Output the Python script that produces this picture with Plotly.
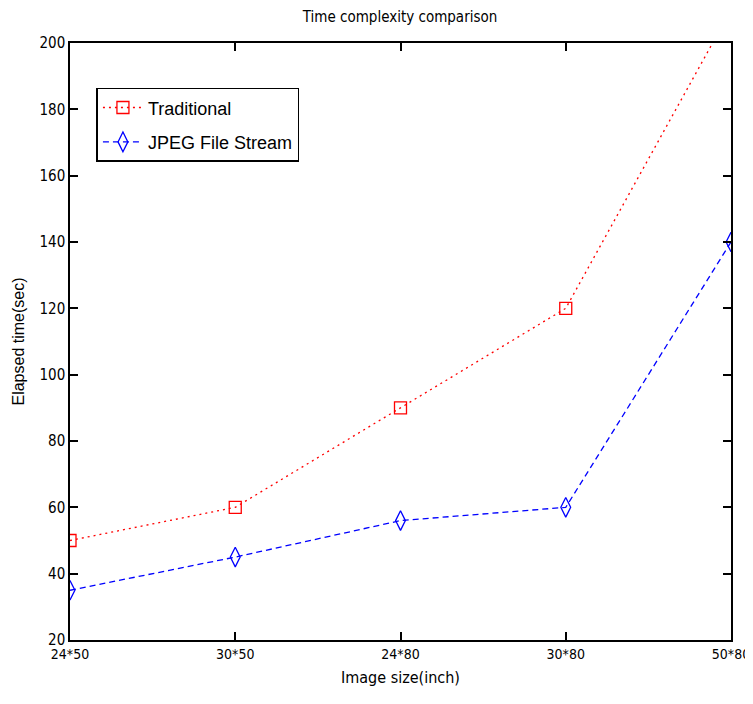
import plotly.graph_objects as go

categories = ["24*50", "30*50", "24*80", "30*80", "50*80"]
traditional = [50, 60, 90, 120, 210]
jpeg_stream = [35, 45, 56, 60, 140]
y_ticks = [20, 40, 60, 80, 100, 120, 140, 160, 180, 200]

NARROW = "DejaVu Sans Condensed, Liberation Sans Narrow, Arial Narrow, sans-serif"
REGULAR = "Liberation Sans, Arial, sans-serif"

W, H = 753, 688

fig = go.Figure()
fig.add_trace(go.Scatter(
    x=categories, y=traditional, name="Traditional", mode="lines+markers",
    legendgroup="trad",
    line=dict(color="#ff0000", width=1.3, dash="2px,4px"),
    marker=dict(symbol="square-open", size=12, color="#ff0000", line=dict(width=1.3)),
))
fig.add_trace(go.Scatter(
    x=categories, y=jpeg_stream, name="JPEG File Stream", mode="lines+markers",
    legendgroup="jpeg",
    line=dict(color="#0000ff", width=1.3, dash="6px,4px"),
    marker=dict(symbol="diamond-tall-open", size=14, color="#0000ff", line=dict(width=1.3)),
))

axis_common = dict(
    showline=True, linecolor="black", linewidth=1.5, mirror="ticks",
    ticks="inside", ticklen=8, tickcolor="black", tickwidth=1.5,
    showgrid=False, zeroline=False, automargin=False,
)

fig.update_layout(
    width=W, height=H,
    margin=dict(l=62, r=30, t=35, b=56),
    paper_bgcolor="white", plot_bgcolor="white",
    title=dict(text="Time complexity comparison", x=392 / W, xanchor="center",
               y=1 - 9 / H, yanchor="middle", yref="container",
               font=dict(family=NARROW, size=15, color="black")),
    xaxis=dict(type="category", range=[0, 4], **axis_common,
               tickfont=dict(family=NARROW, size=14, color="black"),
               title=dict(text="Image size(inch)", standoff=11,
                          font=dict(family=NARROW, size=16, color="black"))),
    yaxis=dict(range=[20, 200], tickvals=y_ticks, **axis_common,
               tickfont=dict(family=NARROW, size=15, color="black"),
               title=dict(text="Elapsed time(sec)", standoff=11,
                          font=dict(family=REGULAR, size=16, color="black"))),
    legend=dict(x=0.04, y=0.925, xanchor="left", yanchor="top",
                bgcolor="white", bordercolor="black", borderwidth=1.5,
                font=dict(family=REGULAR, size=18, color="black"),
                itemwidth=40, tracegroupgap=8),
    showlegend=True,
)

fig.write_html("out.html")
